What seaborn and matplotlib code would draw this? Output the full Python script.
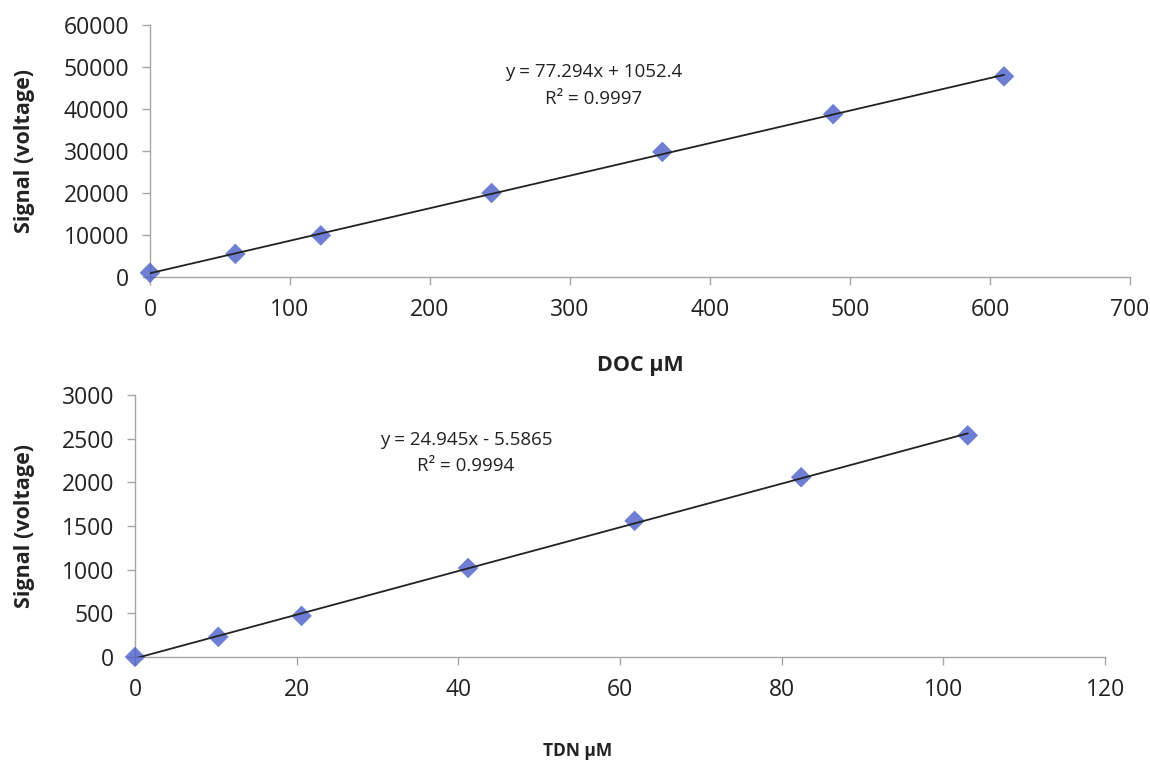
import matplotlib
matplotlib.use("Agg")
import matplotlib.pyplot as plt
import seaborn as sns
import numpy as np
import pandas as pd

doc_x = [0, 61, 122, 244, 366, 488, 610]
doc_signal = [1000, 5500, 9900, 20000, 29800, 38800, 47800]
tdn_x = [0, 10.3, 20.6, 41.2, 61.8, 82.4, 103]
tdn_signal = [0, 230, 470, 1020, 1560, 2060, 2540]

doc_eq = "y = 77.294x + 1052.4"
doc_r2 = "R² = 0.9997"
tdn_eq = "y = 24.945x - 5.5865"
tdn_r2 = "R² = 0.9994"

sns.set_style("white")
plt.rcParams['font.family'] = ['Open Sans', 'DejaVu Sans']

fig = plt.figure(figsize=(11.5, 7.63), dpi=100)
ax1 = fig.add_axes([0.1304, 0.637, 0.8522, 0.330])
ax2 = fig.add_axes([0.1174, 0.139, 0.8436, 0.343])

marker_color = "#4a5fc8"
axis_color = "#a6a6a6"

def draw(ax, x, y, xlim, xticks, ylim, yticks, xlabel, xlab_size, eq, r2, eqpos, xlab_coords, ylab_coords):
    df = pd.DataFrame({"x": x, "y": y})
    sns.regplot(data=df, x="x", y="y", ax=ax, ci=None, truncate=True,
                marker="D",
                scatter_kws=dict(s=110, color=marker_color, edgecolor="none", zorder=3, clip_on=False),
                line_kws=dict(color="#222222", lw=1.3, zorder=4))
    ax.set_xlim(*xlim)
    ax.set_ylim(*ylim)
    ax.set_xticks(xticks)
    ax.set_yticks(yticks)
    for s in ["top", "right"]:
        ax.spines[s].set_visible(False)
    for s in ["left", "bottom"]:
        ax.spines[s].set_color(axis_color)
        ax.spines[s].set_linewidth(1.0)
    ax.tick_params(axis="both", direction="out", length=6, width=1,
                   color=axis_color, labelsize=16.5, labelcolor="#222222", pad=9, left=True, bottom=True)
    ax.set_xlabel(xlabel, fontsize=xlab_size, fontweight="bold", color="#222222")
    ax.set_ylabel("Signal (voltage)", fontsize=15.5, fontweight="bold", color="#222222")
    ax.xaxis.set_label_coords(*xlab_coords)
    ax.yaxis.set_label_coords(*ylab_coords)
    ax.text(eqpos[0], eqpos[1], eq + "\n" + r2, transform=ax.transAxes,
            ha="center", va="center", fontsize=13.5, color="#222222", linespacing=1.6)

draw(ax1, doc_x, doc_signal, (0, 700), range(0, 701, 100), (0, 60000),
     range(0, 60001, 10000), "DOC µM", 15.5, doc_eq, doc_r2, (0.453, 0.76),
     (0.5, -0.31), (-0.117, 0.5))
draw(ax2, tdn_x, tdn_signal, (0, 120), range(0, 121, 20), (0, 3000),
     range(0, 3001, 500), "TDN µM", 12.5, tdn_eq, tdn_r2, (0.341, 0.78),
     (0.456, -0.324), (-0.103, 0.5))

fig.savefig("out.png", dpi=100, facecolor="white")
